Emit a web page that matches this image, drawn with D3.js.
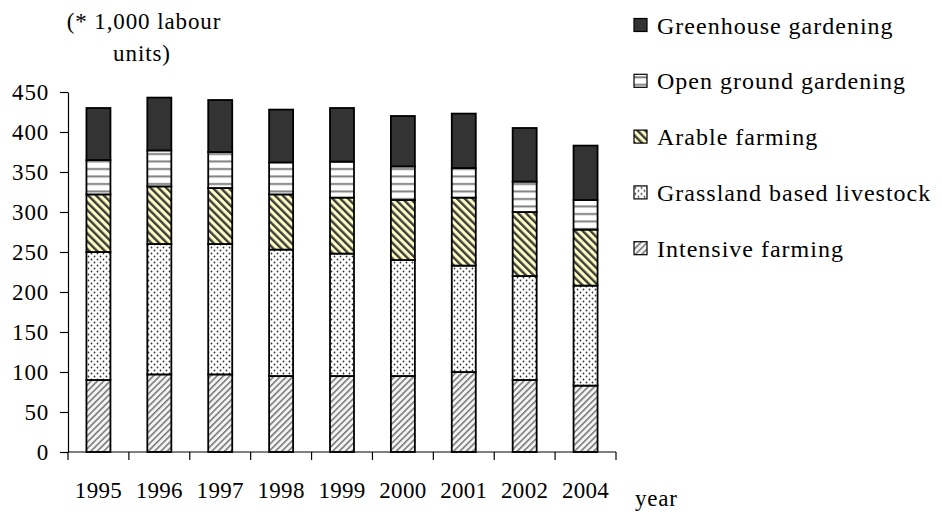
<!DOCTYPE html>
<html>
<head>
<meta charset="utf-8">
<script src="https://cdn.jsdelivr.net/npm/d3@7"></script>
<style>
  body { margin: 0; background: #fff; }
  text { font-family: "Liberation Serif", "Times New Roman", serif; fill: #000; }
</style>
</head>
<body>
<div id="chart"></div>
<script>
// Labour units per year (* 1,000)
const years = ['1995', '1996', '1997', '1998', '1999', '2000', '2001', '2002', '2004']
const intensive = [90, 97, 97, 95, 95, 95, 100, 90, 83]
const grassland = [160, 163, 163, 158, 153, 145, 133, 130, 125]
const arable = [72, 72, 70, 69, 70, 75, 85, 80, 70]
const openGround = [43, 45, 45, 40, 45, 42, 37, 38, 37]
const greenhouse = [65, 66, 65, 66, 67, 63, 68, 67, 68]
const yTicks = [0, 50, 100, 150, 200, 250, 300, 350, 400, 450]

// bottom to top
const series = [
  { key: 'intensive', name: 'Intensive farming', values: intensive },
  { key: 'grassland', name: 'Grassland based livestock', values: grassland },
  { key: 'arable', name: 'Arable farming', values: arable },
  { key: 'open', name: 'Open ground gardening', values: openGround },
  { key: 'greenhouse', name: 'Greenhouse gardening', values: greenhouse },
]

const width = 942
const height = 517
const margin = { left: 68, right: 326, top: 92, bottom: 65 }

const svg = d3
  .select('#chart')
  .append('svg')
  .attr('width', width)
  .attr('height', height)

// fill patterns
const defs = svg.append('defs')

const pIntensive = defs
  .append('pattern')
  .attr('id', 'p-intensive')
  .attr('patternUnits', 'userSpaceOnUse')
  .attr('width', 4.5)
  .attr('height', 4.5)
  .attr('patternTransform', 'rotate(45)')
pIntensive.append('rect').attr('width', 4.5).attr('height', 4.5).attr('fill', '#f4f4f4')
pIntensive.append('rect').attr('width', 1.6).attr('height', 4.5).attr('fill', '#7a7a7a')

const pArable = defs
  .append('pattern')
  .attr('id', 'p-arable')
  .attr('patternUnits', 'userSpaceOnUse')
  .attr('width', 5.5)
  .attr('height', 5.5)
  .attr('patternTransform', 'rotate(-45)')
pArable.append('rect').attr('width', 5.5).attr('height', 5.5).attr('fill', '#ffffc4')
pArable.append('rect').attr('width', 2.4).attr('height', 5.5).attr('fill', '#3c3c3c')

const pGrass = defs
  .append('pattern')
  .attr('id', 'p-grassland')
  .attr('patternUnits', 'userSpaceOnUse')
  .attr('width', 6)
  .attr('height', 6)
pGrass.append('rect').attr('width', 6).attr('height', 6).attr('fill', '#fff')
pGrass.append('circle').attr('cx', 1.5).attr('cy', 1.5).attr('r', 0.9).attr('fill', '#333')
pGrass.append('circle').attr('cx', 4.5).attr('cy', 4.5).attr('r', 0.9).attr('fill', '#333')

const pOpen = defs
  .append('pattern')
  .attr('id', 'p-open')
  .attr('patternUnits', 'userSpaceOnUse')
  .attr('width', 8)
  .attr('height', 7.5)
pOpen.append('rect').attr('width', 8).attr('height', 7.5).attr('fill', '#fff')
pOpen.append('rect').attr('y', 3).attr('width', 8).attr('height', 2).attr('fill', '#808080')

const fills = {
  intensive: 'url(#p-intensive)',
  grassland: 'url(#p-grassland)',
  arable: 'url(#p-arable)',
  open: 'url(#p-open)',
  greenhouse: '#333333',
}

// scales
const x = d3
  .scaleBand()
  .domain(years)
  .range([margin.left, width - margin.right])
  .paddingInner(0)
  .paddingOuter(0)

const y = d3
  .scaleLinear()
  .domain([0, 450])
  .range([height - margin.bottom, margin.top])

// stack the series
const table = years.map((yr, i) => {
  const row = { year: yr }
  series.forEach((s) => (row[s.key] = s.values[i]))
  return row
})
const stacked = d3.stack().keys(series.map((s) => s.key))(table)

const barWidth = 24

// bars
svg
  .append('g')
  .selectAll('g')
  .data(stacked)
  .join('g')
  .attr('fill', (d) => fills[d.key])
  .selectAll('rect')
  .data((d) => d)
  .join('rect')
  .attr('x', (d) => x(d.data.year) + x.bandwidth() / 2 - barWidth / 2)
  .attr('y', (d) => y(d[1]))
  .attr('width', barWidth)
  .attr('height', (d) => y(d[0]) - y(d[1]))
  .attr('stroke', '#000')
  .attr('stroke-width', 1.8)

// y axis
const yAxis = svg
  .append('g')
  .attr('transform', `translate(${margin.left},0)`)
  .call(d3.axisLeft(y).tickValues(yTicks).tickSize(8).tickPadding(11).tickSizeOuter(0))
yAxis.attr('font-family', null)
yAxis.select('.domain').attr('stroke', '#000').attr('stroke-width', 1.2)
yAxis.selectAll('.tick line').attr('stroke', '#000').attr('stroke-width', 1.2)
yAxis
  .selectAll('.tick text')
  .attr('font-size', 23)
  .attr('letter-spacing', 0.8)

// x axis: ticks sit at the band edges
const xAxisG = svg
  .append('g')
  .attr('transform', `translate(0,${y(0)})`)
xAxisG
  .append('line')
  .attr('x1', margin.left)
  .attr('x2', width - margin.right)
  .attr('stroke', '#000')
  .attr('stroke-width', 1.2)
const edges = years.map((yr) => x(yr)).concat([x(years[years.length - 1]) + x.bandwidth()])
xAxisG
  .selectAll('.xtick')
  .data(edges)
  .join('line')
  .attr('class', 'xtick')
  .attr('x1', (d) => d)
  .attr('x2', (d) => d)
  .attr('y1', 0)
  .attr('y2', 8)
  .attr('stroke', '#000')
  .attr('stroke-width', 1.2)
xAxisG
  .selectAll('.xlabel')
  .data(years)
  .join('text')
  .attr('class', 'xlabel')
  .attr('x', (d) => x(d) + x.bandwidth() / 2)
  .attr('y', 46)
  .attr('text-anchor', 'middle')
  .attr('font-size', 23)
  .attr('letter-spacing', 0.3)
  .text((d) => d)

// axis titles
svg
  .append('text')
  .attr('x', 635)
  .attr('y', 506)
  .attr('font-size', 23)
  .attr('letter-spacing', 0.8)
  .text('year')

const unitTitle = svg
  .append('text')
  .attr('text-anchor', 'middle')
  .attr('font-size', 23)
  .attr('letter-spacing', 0.9)
unitTitle.append('tspan').attr('x', 144).attr('y', 29).text('(* 1,000 labour')
unitTitle.append('tspan').attr('x', 142).attr('y', 61).text('units)')

// legend, top to bottom
const legendItems = series.slice().reverse()
const legend = svg
  .append('g')
  .selectAll('g')
  .data(legendItems)
  .join('g')
  .attr('transform', (d, i) => `translate(634,${25 + i * 55.8})`)
legend
  .append('rect')
  .attr('x', 0)
  .attr('y', -6.5)
  .attr('width', 13)
  .attr('height', 13)
  .attr('fill', (d) => fills[d.key])
  .attr('stroke', '#000')
  .attr('stroke-width', 1.2)
legend
  .append('text')
  .attr('x', 23)
  .attr('y', 8.5)
  .attr('font-size', 24)
  .attr('letter-spacing', 1)
  .text((d) => d.name)
</script>
</body>
</html>
